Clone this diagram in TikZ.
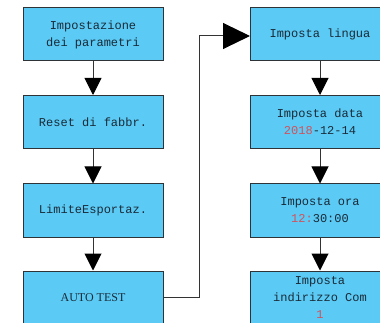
\documentclass[tikz,border=0pt]{standalone}
\usepackage{fontspec}
\setmonofont{Liberation Mono}
\newfontfamily\timesfont{Liberation Serif}
\usetikzlibrary{arrows.meta}
\definecolor{boxfill}{HTML}{5BCBF5}
\definecolor{boxline}{HTML}{2E3338}
\definecolor{txtcol}{HTML}{1A2A38}
\definecolor{numred}{HTML}{D4505A}
\tikzset{
  stepbox/.style={draw=boxline, line width=1pt, fill=boxfill, minimum width=140pt, minimum height=53pt,
    inner sep=0pt, align=center, text=txtcol, font=\ttfamily\fontsize{12}{17}\selectfont},
  flow/.style={draw=black!80, line width=1pt, -{Triangle[width=17pt,length=17pt,color=black]}},
  bigflow/.style={draw=black!80, line width=1pt, -{Triangle[width=26pt,length=27pt,color=black]}}
}
\begin{document}
\begin{tikzpicture}[x=1pt,y=-1pt]
\useasboundingbox (0,0) rectangle (380,323);
\node[stepbox] (l1) at (93,34.5) {Impostazione\\dei parametri};
\node[stepbox] (l2) at (93,122) {Reset di fabbr.};
\node[stepbox] (l3) at (93,210.5) {LimiteEsportaz.};
\node[stepbox] (l4) at (93,297.5) {\timesfont AUTO TEST};
\node[stepbox, minimum width=139pt] (r1) at (320,34.5) {Imposta lingua};
\node[stepbox, minimum width=139pt] (r2) at (320,122) {Imposta data\\\textcolor{numred}{2018}-12-14};
\node[stepbox, minimum width=139pt] (r3) at (320,210.5) {Imposta ora\\\textcolor{numred}{12:}30:00};
\node[stepbox, minimum width=139pt] (r4) at (320,297.5) {Imposta\\indirizzo Com\\\textcolor{numred}{1}};
\coordinate (k1) at (199,297.5);
\coordinate (k2) at (199,36);
\draw[flow] (l1) -- (l2);
\draw[flow] (l2) -- (l3);
\draw[flow] (l3) -- (l4);
\draw[flow] (r1) -- (r2);
\draw[flow] (r2) -- (r3);
\draw[flow] (r3) -- (r4);
\draw[bigflow] (l4.east) -- (k1) -- (k2) -- (k2 -| r1.west);
\end{tikzpicture}
\end{document}
